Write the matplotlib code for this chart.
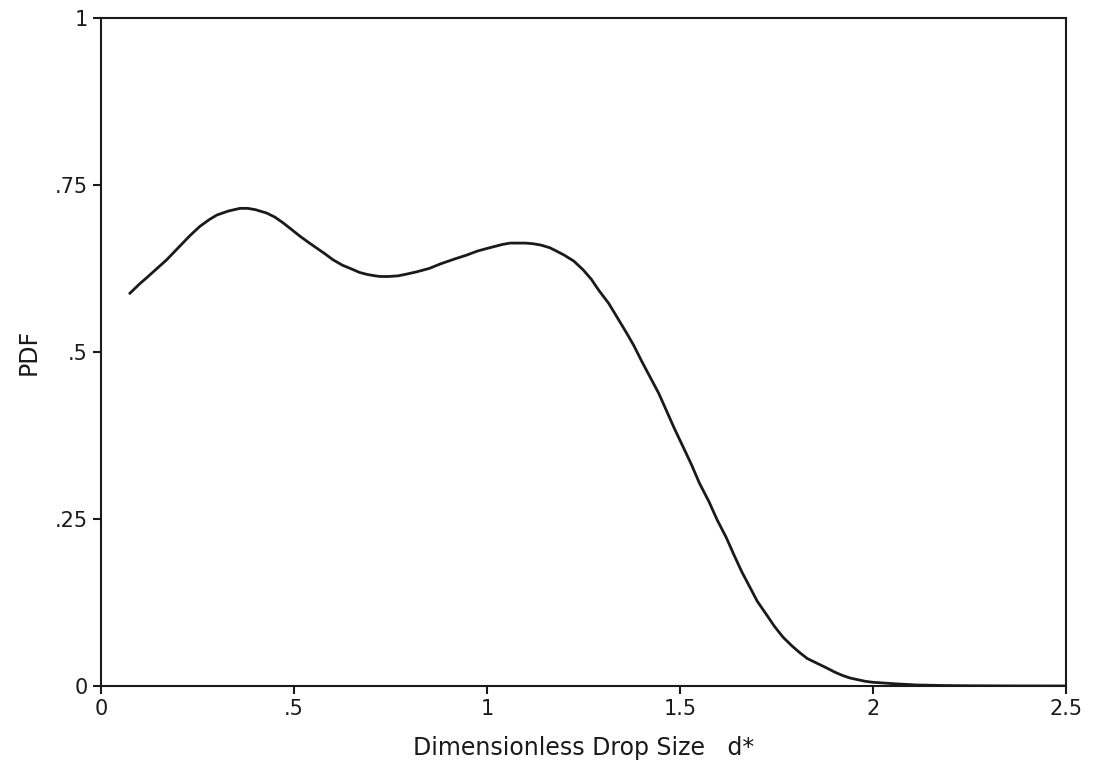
import matplotlib
matplotlib.use("Agg")
import matplotlib.pyplot as plt

# drop size distribution
d_star = [0.075, 0.10, 0.12, 0.145, 0.17, 0.19, 0.21, 0.23, 0.256, 0.28, 0.30, 0.33,
          0.36, 0.38, 0.40, 0.429, 0.45, 0.47, 0.49, 0.516, 0.54, 0.56, 0.58,
          0.601, 0.625, 0.65, 0.67, 0.69, 0.71, 0.723, 0.745, 0.77, 0.795, 0.818,
          0.85, 0.88, 0.915, 0.947, 0.975, 1.00, 1.02, 1.04, 1.06, 1.077, 1.10,
          1.12, 1.14, 1.163, 1.18, 1.20, 1.225, 1.249, 1.27, 1.29, 1.315, 1.337,
          1.36, 1.38, 1.40, 1.422, 1.445, 1.465, 1.485, 1.508, 1.53, 1.55, 1.575,
          1.596, 1.62, 1.64, 1.66, 1.681, 1.70, 1.725, 1.745, 1.767, 1.79, 1.81,
          1.83, 1.855, 1.88, 1.90, 1.92, 1.940, 1.96, 1.98, 2.00, 2.026, 2.07,
          2.114, 2.18, 2.25, 2.35, 2.5]
pdf = [0.588, 0.602, 0.612, 0.625, 0.638, 0.650, 0.662, 0.674, 0.688, 0.698, 0.705,
       0.711, 0.715, 0.715, 0.713, 0.708, 0.702, 0.694, 0.685, 0.673, 0.663,
       0.655, 0.647, 0.638, 0.630, 0.624, 0.619, 0.616, 0.614, 0.613, 0.613,
       0.614, 0.617, 0.620, 0.625, 0.632, 0.639, 0.645, 0.651, 0.655, 0.658,
       0.661, 0.663, 0.663, 0.663, 0.662, 0.660, 0.656, 0.651, 0.645, 0.636,
       0.623, 0.609, 0.592, 0.573, 0.552, 0.530, 0.510, 0.487, 0.463, 0.438,
       0.412, 0.386, 0.358, 0.331, 0.304, 0.276, 0.249, 0.222, 0.196, 0.171,
       0.148, 0.127, 0.106, 0.089, 0.073, 0.060, 0.050, 0.041, 0.034, 0.027,
       0.021, 0.016, 0.012, 0.0095, 0.007, 0.0055, 0.0045, 0.0028, 0.0015,
       0.0007, 0.0003, 0.0001, 0.0]

xticks = [0, 0.5, 1, 1.5, 2, 2.5]
xticklabels = ["0", ".5", "1", "1.5", "2", "2.5"]
yticks = [0, 0.25, 0.5, 0.75, 1]
yticklabels = ["0", ".25", ".5", ".75", "1"]

plt.rcParams['font.family'] = ['DejaVu Sans']

fig = plt.figure(figsize=(10.96, 7.68), dpi=100)
ax = fig.add_axes([0.0922, 0.1068, 0.8804, 0.8698])

ax.plot(d_star, pdf, color='#1a1a1a', lw=2.0, solid_joinstyle='round')

ax.set_xlim(0, 2.5)
ax.set_ylim(0, 1)
ax.set_xticks(xticks)
ax.set_xticklabels(xticklabels)
ax.set_yticks(yticks)
ax.set_yticklabels(yticklabels)
ax.tick_params(direction='out', length=6, width=1.5, labelsize=15, color='#1a1a1a',
               labelcolor='#1a1a1a')
for s in ax.spines.values():
    s.set_linewidth(1.5)
    s.set_color('#1a1a1a')

ax.set_xlabel("Dimensionless Drop Size   d*", fontsize=17, labelpad=12, color='#1a1a1a')
ax.set_ylabel("PDF", fontsize=17, labelpad=10, color='#1a1a1a')

plt.savefig("out.png", dpi=100)
